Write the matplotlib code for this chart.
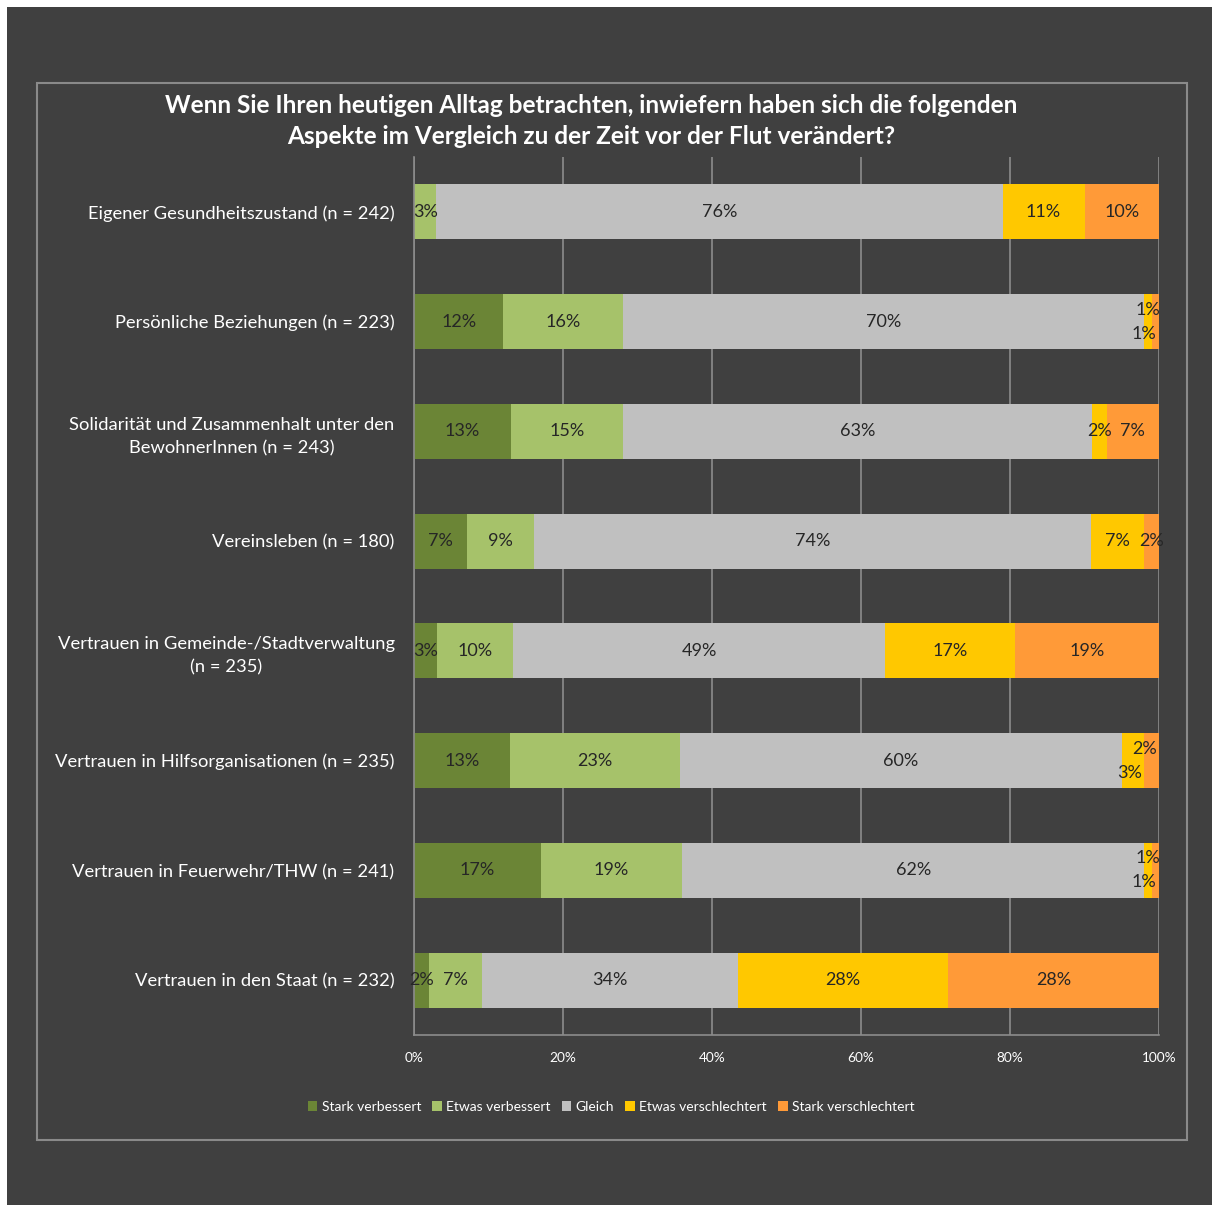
import matplotlib.pyplot as plt
import matplotlib.patches as mpatches
import numpy as np

plt.rcParams["font.family"] = ["Lato", "DejaVu Sans"]

categories = [
    "Eigener Gesundheitszustand (n = 242)",
    "Persönliche Beziehungen (n = 223)",
    "Solidarität und Zusammenhalt unter den\nBewohnerInnen (n = 243)",
    "Vereinsleben (n = 180)",
    "Vertrauen in Gemeinde-/Stadtverwaltung\n(n = 235)",
    "Vertrauen in Hilfsorganisationen (n = 235)",
    "Vertrauen in Feuerwehr/THW (n = 241)",
    "Vertrauen in den Staat (n = 232)",
]
series_names = ["Stark verbessert", "Etwas verbessert", "Gleich",
                "Etwas verschlechtert", "Stark verschlechtert"]
stark_verbessert = [0, 12, 13, 7, 3, 13, 17, 2]
etwas_verbessert = [3, 16, 15, 9, 10, 23, 19, 7]
gleich = [76, 70, 63, 74, 49, 60, 62, 34]
etwas_verschlechtert = [11, 1, 2, 7, 17, 3, 1, 28]
stark_verschlechtert = [10, 1, 7, 2, 19, 2, 1, 28]
colors = ["#6b8536", "#a6c26a", "#c0c0c0", "#ffc800", "#ff9a38"]
xticks = [0, 20, 40, 60, 80, 100]

bg = "#404040"
values = np.array([stark_verbessert, etwas_verbessert, gleich,
                   etwas_verschlechtert, stark_verschlechtert], dtype=float)
# 100 % stacked: normalise each row like Excel does
shares = values / values.sum(axis=0) * 100

fig = plt.figure(figsize=(12.12, 12.05), dpi=100, facecolor="white")
fig.patches.append(mpatches.Rectangle((7 / 1212, 0), 1, 1 - 7 / 1205,
                                      transform=fig.transFigure,
                                      facecolor=bg, edgecolor="none", zorder=-2))
fig.patches.append(mpatches.Rectangle((37 / 1212, 1 - 1140 / 1205),
                                      (1187 - 37) / 1212, (1140 - 83) / 1205,
                                      transform=fig.transFigure, fill=False,
                                      edgecolor="#8a8a8a", linewidth=1.5, zorder=-1))

ax = fig.add_axes([414 / 1212, 170 / 1205, 745 / 1212, 878 / 1205])
ax.set_facecolor(bg)

y = np.arange(len(categories))
left = np.zeros(len(categories))
for i, name in enumerate(series_names):
    ax.barh(y, shares[i], left=left, height=0.5, color=colors[i],
            label=name, zorder=2)
    for j in range(len(categories)):
        v = values[i, j]
        if v == 0:
            continue
        cx = left[j] + shares[i, j] / 2
        dx, dy = 0, 0
        if etwas_verschlechtert[j] <= 3 and stark_verschlechtert[j] <= 3:
            if i == 3:
                dx, dy = -4, -12
            elif i == 4:
                dx, dy = -7, 12
        ax.annotate(f"{v:.0f}%", (cx, j), xytext=(dx, dy),
                    textcoords="offset pixels", ha="center", va="center",
                    fontsize=13, color="#262626", zorder=3)
    left += shares[i]

ax.set_xlim(0, 100)
ax.set_ylim(len(categories) - 0.5, -0.5)
ax.set_xticks(xticks)
ax.set_xticklabels([f"{t}%" for t in xticks])
ax.set_yticks(y)
ax.set_yticklabels(categories)
for lab in ax.get_yticklabels():
    lab.set_multialignment("center")
    lab.set_linespacing(1.55)
ax.tick_params(axis="y", length=0, pad=14, labelsize=13.2, labelcolor="white")
ax.tick_params(axis="x", length=0, pad=12, labelsize=9.8, labelcolor="white")
ax.grid(axis="x", color="#8c8c8c", linewidth=1.2, zorder=0)
for side in ["top", "right"]:
    ax.spines[side].set_visible(False)
for side in ["left", "bottom"]:
    ax.spines[side].set_color("#8c8c8c")
    ax.spines[side].set_linewidth(1.2)

fig.text(591 / 1212, 1 - 121 / 1205,
         "Wenn Sie Ihren heutigen Alltag betrachten, inwiefern haben sich die folgenden\n"
         "Aspekte im Vergleich zu der Zeit vor der Flut verändert?",
         ha="center", va="center", fontsize=17.6, fontweight="bold",
         color="white", linespacing=1.4)

leg = fig.legend(loc="center", bbox_to_anchor=(611 / 1212, 1 - 1107 / 1205),
                 ncol=5, frameon=False, fontsize=10, labelcolor="white",
                 handlelength=0.7, handleheight=0.7, handletextpad=0.3,
                 columnspacing=0.8)

fig.savefig("out.png", dpi=100, facecolor=fig.get_facecolor())
